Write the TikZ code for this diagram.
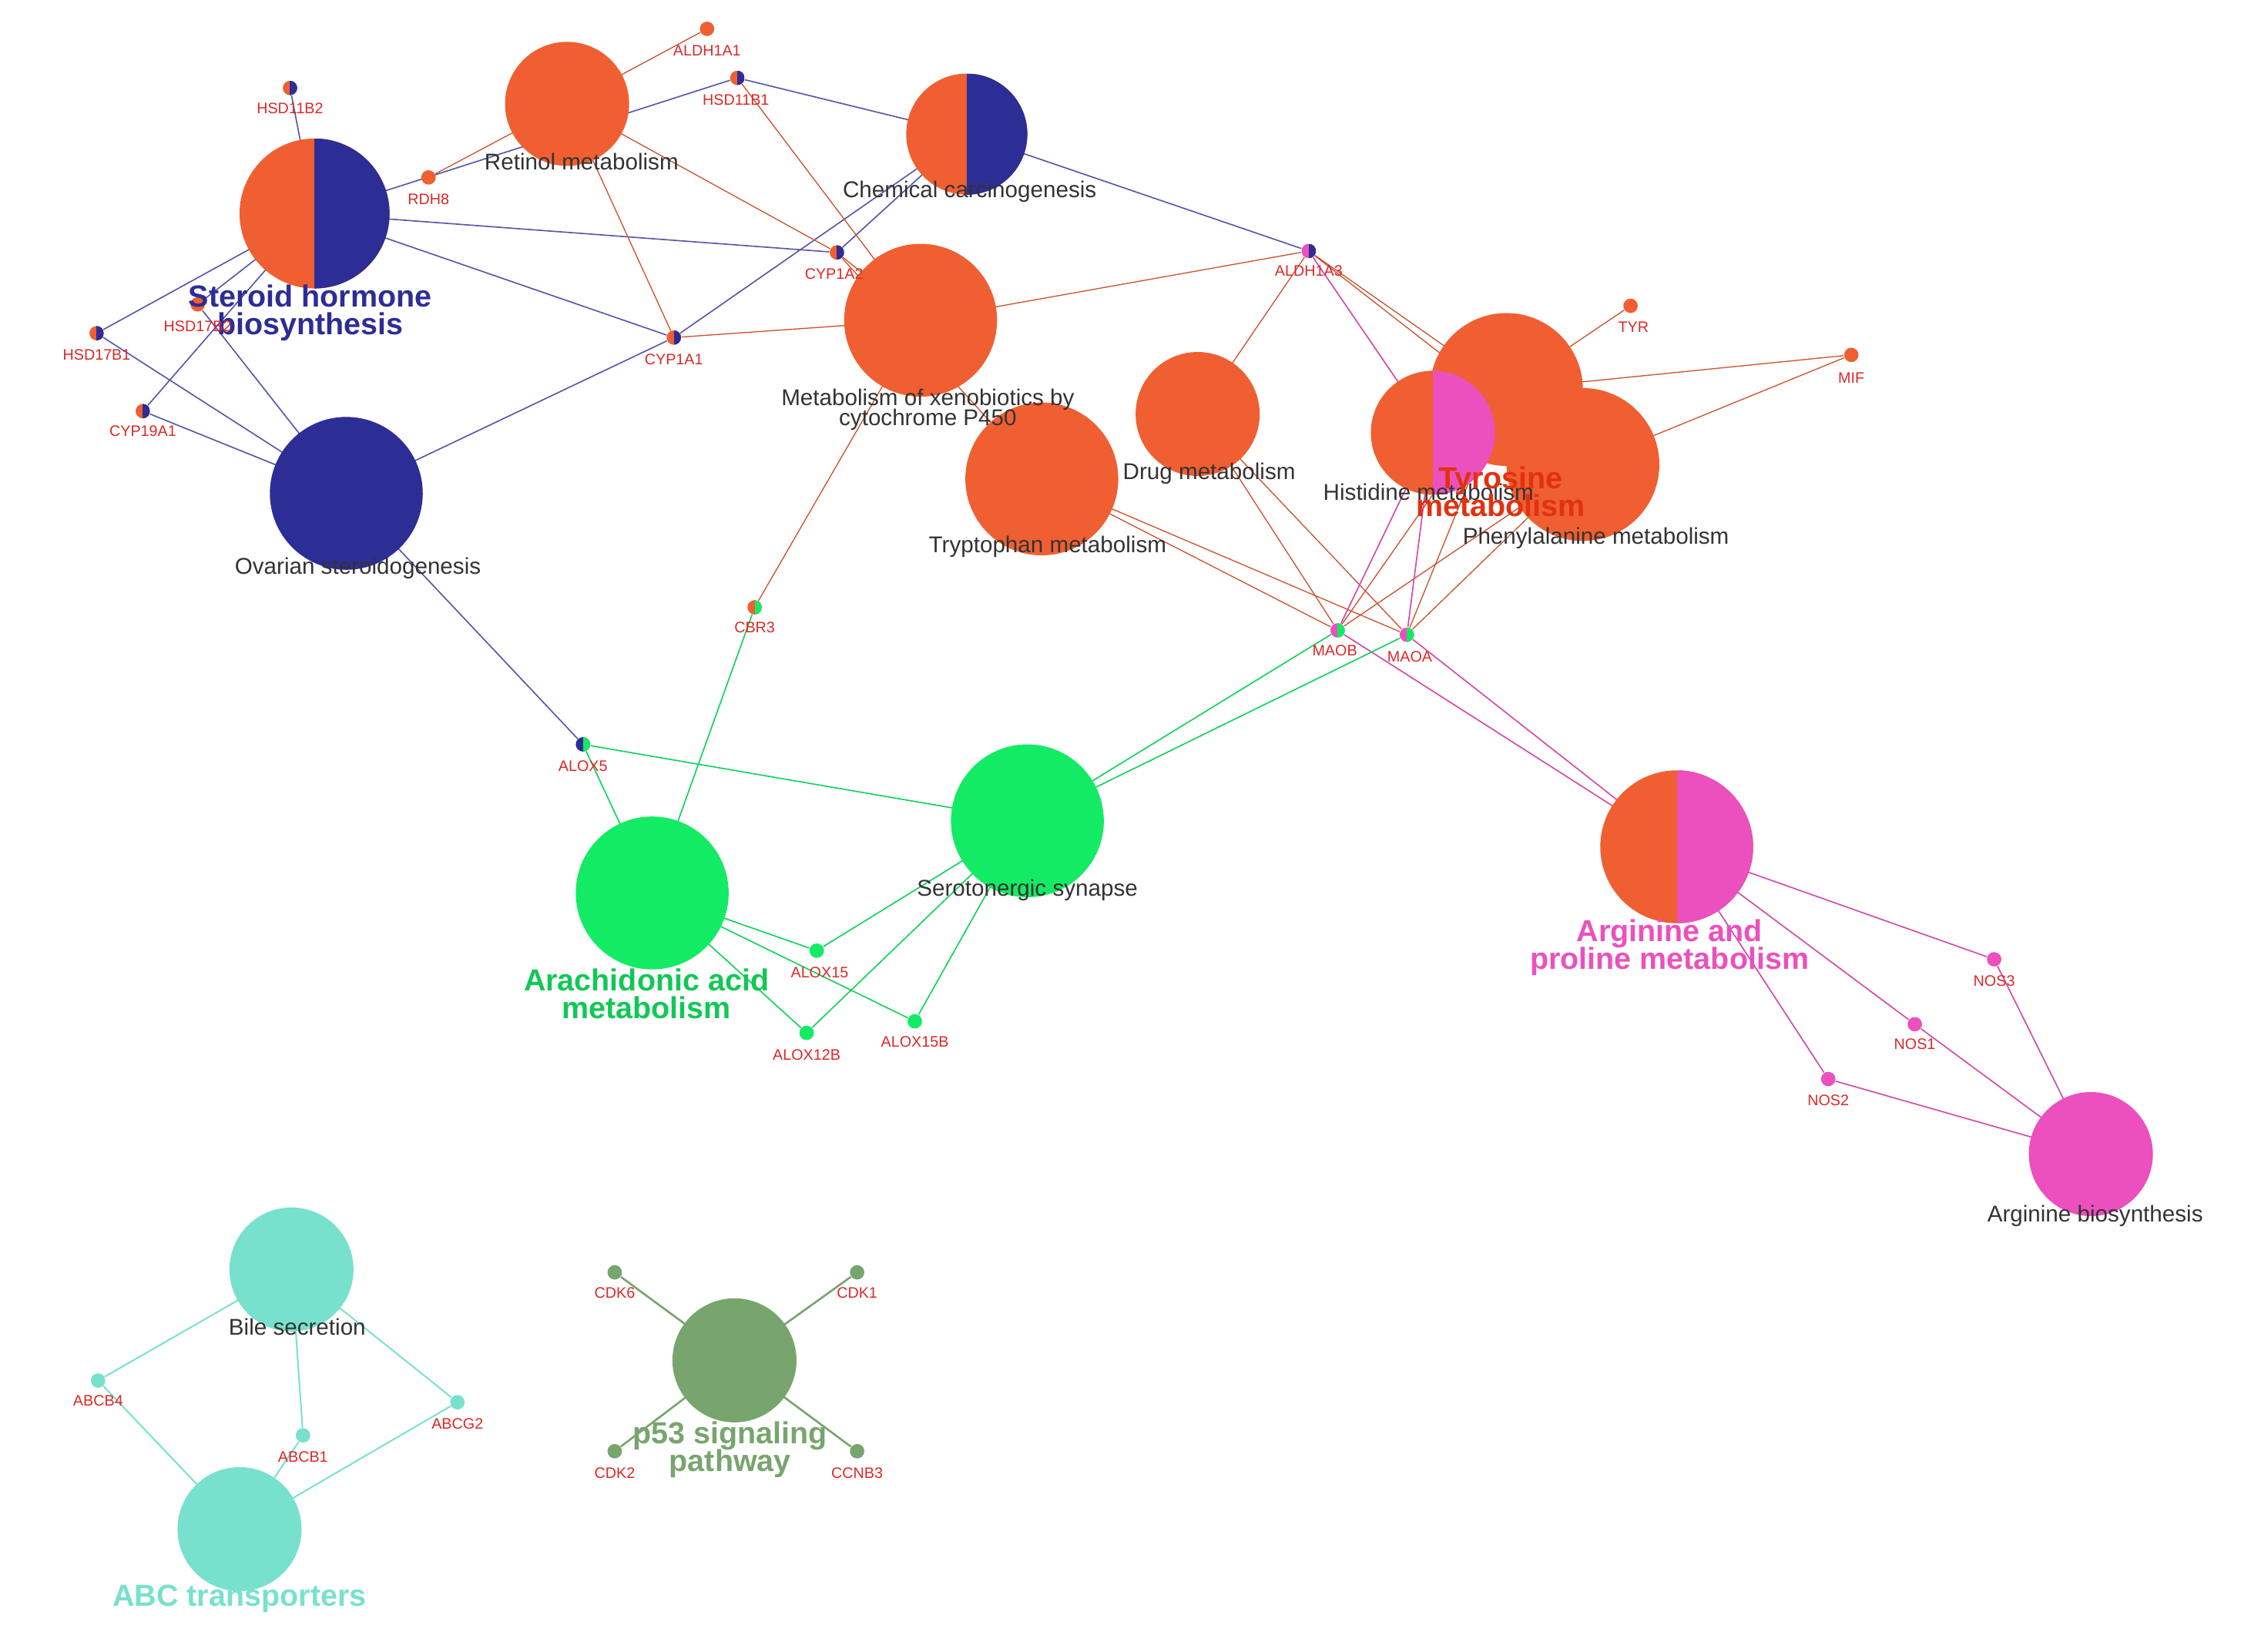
\documentclass[tikz,border=0pt]{standalone}
\usepackage{fontspec}
\setmainfont{Liberation Sans}
\pgfdeclarelayer{bg}
\pgfsetlayers{bg,main}
\begin{document}
\begin{tikzpicture}[x=0.02cm,y=-0.02cm]
\definecolor{org}{RGB}{240,95,50}
\definecolor{blu}{RGB}{45,45,150}
\definecolor{mag}{RGB}{235,80,190}
\definecolor{grn}{RGB}{20,235,100}
\definecolor{tur}{RGB}{120,225,205}
\definecolor{sag}{RGB}{120,165,110}
\definecolor{gred}{RGB}{220,40,40}
\tikzset{
 big/.style={circle,inner sep=0,minimum size=#1*0.04cm},
 sm/.style={circle,inner sep=0,minimum size=0.2cm},
 half/.style 2 args={fill=#1,path picture={\fill[#2] (path picture bounding box.north) rectangle (path picture bounding box.south east);}},
 lab/.style={font=\fontsize{9}{10}\selectfont,text=black!80},
 gl/.style={font=\fontsize{6}{7}\selectfont,text=gred},
 blab/.style={font=\bfseries\fontsize{12}{14}\selectfont,align=center},
 eb/.style={blu!80,line width=0.5pt},
 eo/.style={org!85!black,line width=0.4pt},
 em/.style={mag!90!black,line width=0.5pt},
 eg/.style={grn!90!black,line width=0.5pt},
 et/.style={tur,line width=0.6pt},
 es/.style={sag,line width=0.8pt}
}
\path[use as bounding box] (0,0) rectangle (1560,1145);
% big nodes
\node[big=52,half={org}{blu}] (ster) at (218,148) {};
\node[big=43,fill=org] (ret) at (393,72) {};
\node[big=42,half={org}{blu}] (chem) at (670,93) {};
\node[big=53,fill=org] (xeno) at (638,222) {};
\node[big=43,fill=org] (drug) at (830,287) {};
\node[big=53,fill=org] (tryp) at (722,332) {};
\node[big=53,fill=org] (tyr) at (1044,270) {};
\node[big=43,half={org}{mag}] (his) at (993,300) {};
\node[big=53,fill=org] (phe) at (1097,322) {};
\node[big=53,fill=blu] (ova) at (240,342) {};
\node[big=53,fill=grn] (ara) at (452,619) {};
\node[big=53,fill=grn] (ser) at (712,569) {};
\node[big=53,half={org}{mag}] (arg) at (1162,587) {};
\node[big=43,fill=mag] (argb) at (1449,800) {};
\node[big=43,fill=tur] (bile) at (202,880) {};
\node[big=43,fill=tur] (abc) at (166,1060) {};
\node[big=43,fill=sag] (p53) at (509,943) {};
% small nodes
\node[sm,half={org}{blu}] (hsd11b2) at (201,61) {};
\node[sm,fill=org] (aldh1a1) at (490,20) {};
\node[sm,half={org}{blu}] (hsd11b1) at (511,54) {};
\node[sm,fill=org] (rdh8) at (297,123) {};
\node[sm,half={org}{blu}] (cyp1a2) at (580,175) {};
\node[sm,half={mag}{blu}] (aldh1a3) at (907,174) {};
\node[sm,fill=org] (tyrg) at (1130,212) {};
\node[sm,fill=org] (mif) at (1283,246) {};
\node[sm,fill=org] (hsd17b2) at (137,211) {};
\node[sm,half={org}{blu}] (hsd17b1) at (67,231) {};
\node[sm,half={org}{blu}] (cyp1a1) at (467,234) {};
\node[sm,half={org}{blu}] (cyp19a1) at (99,285) {};
\node[sm,half={org}{grn}] (cbr3) at (523,421) {};
\node[sm,half={mag}{grn}] (maob) at (927,437) {};
\node[sm,half={mag}{grn}] (maoa) at (975,440) {};
\node[sm,half={blu}{grn}] (alox5) at (404,516) {};
\node[sm,fill=grn] (alox15) at (566,659) {};
\node[sm,fill=grn] (alox12b) at (559,716) {};
\node[sm,fill=grn] (alox15b) at (634,708) {};
\node[sm,fill=mag] (nos3) at (1382,665) {};
\node[sm,fill=mag] (nos1) at (1327,710) {};
\node[sm,fill=mag] (nos2) at (1267,748) {};
\node[sm,fill=sag] (cdk6) at (426,882) {};
\node[sm,fill=sag] (cdk1) at (594,882) {};
\node[sm,fill=sag] (cdk2) at (426,1006) {};
\node[sm,fill=sag] (ccnb3) at (594,1006) {};
\node[sm,fill=tur] (abcb4) at (68,957) {};
\node[sm,fill=tur] (abcg2) at (317,972) {};
\node[sm,fill=tur] (abcb1) at (210,995) {};
\begin{pgfonlayer}{bg}
\foreach \b in {hsd11b2,cyp1a2,cyp1a1,hsd17b2,hsd17b1,cyp19a1,hsd11b1} \draw[eb] (ster.center) -- (\b);
\foreach \b in {hsd17b2,hsd17b1,cyp19a1,cyp1a1,alox5} \draw[eb] (ova.center) -- (\b);
\foreach \b in {hsd11b1,cyp1a1,cyp1a2,aldh1a3} \draw[eb] (chem.center) -- (\b);
\foreach \b in {aldh1a1,rdh8,cyp1a1,cyp1a2} \draw[eo] (ret.center) -- (\b);
\foreach \b in {cyp1a1,cyp1a2,aldh1a3,cbr3,hsd11b1} \draw[eo] (xeno.center) -- (\b);
\foreach \b in {aldh1a3,maoa,maob} \draw[eo] (drug.center) -- (\b);
\foreach \b in {maoa,maob,cyp1a2} \draw[eo] (tryp.center) -- (\b);
\foreach \b in {aldh1a3,tyrg,mif,maoa,maob} \draw[eo] (tyr.center) -- (\b);
\foreach \b in {mif,maoa,maob,aldh1a3} \draw[eo] (phe.center) -- (\b);
\foreach \b in {aldh1a3,maoa,maob} \draw[em] (his.center) -- (\b);
\foreach \b in {maoa,maob,nos3,nos1,nos2} \draw[em] (arg.center) -- (\b);
\foreach \b in {nos3,nos1,nos2} \draw[em] (argb.center) -- (\b);
\foreach \b in {alox5,cbr3,alox15,alox12b,alox15b} \draw[eg] (ara.center) -- (\b);
\foreach \b in {alox5,maoa,maob,alox15,alox12b,alox15b} \draw[eg] (ser.center) -- (\b);
\foreach \b in {abcb4,abcb1,abcg2} {\draw[et] (bile.center) -- (\b); \draw[et] (abc.center) -- (\b);}
\foreach \b in {cdk6,cdk1,cdk2,ccnb3} \draw[es] (p53.center) -- (\b);
\end{pgfonlayer}
% labels
\node[lab] at (403,112) {Retinol metabolism};
\node[lab] at (672,133) {Chemical carcinogenesis};
\node[lab,align=center] at (643,284) {Metabolism of xenobiotics by\\[-2pt]cytochrome P450};
\node[lab] at (838,328) {Drug metabolism};
\node[lab] at (990,341) {Histidine metabolism};
\node[lab] at (726,379) {Tryptophan metabolism};
\node[lab] at (1106,373) {Phenylalanine metabolism};
\node[lab] at (248,394) {Ovarian steroidogenesis};
\node[lab] at (712,617) {Serotonergic synapse};
\node[lab] at (1452,843) {Arginine biosynthesis};
\node[lab] at (206,920) {Bile secretion};
\node[blab,text=blu] at (215,217) {Steroid hormone\\[-3pt]biosynthesis};
\node[blab,text={rgb,255:red,225;green,50;blue,15}] at (1040,341) {Tyrosine\\[-3pt]metabolism};
\node[blab,text=grn!85!black] at (448,689) {Arachidonic acid\\[-3pt]metabolism};
\node[blab,text=mag] at (1157,657) {Arginine and\\[-3pt]proline metabolism};
\node[blab,text=tur] at (166,1108) {ABC transporters};
\node[blab,text=sag] at (506,1005) {p53 signaling\\[-3pt]pathway};
\node[gl] at (201,75) {HSD11B2};
\node[gl] at (490,35) {ALDH1A1};
\node[gl] at (510,69) {HSD11B1};
\node[gl] at (297,138) {RDH8};
\node[gl] at (578,190) {CYP1A2};
\node[gl] at (907,188) {ALDH1A3};
\node[gl] at (1132,227) {TYR};
\node[gl] at (1283,262) {MIF};
\node[gl] at (137,226) {HSD17B2};
\node[gl] at (67,246) {HSD17B1};
\node[gl] at (467,249) {CYP1A1};
\node[gl] at (99,299) {CYP19A1};
\node[gl] at (523,435) {CBR3};
\node[gl] at (925,451) {MAOB};
\node[gl] at (977,455) {MAOA};
\node[gl] at (404,531) {ALOX5};
\node[gl] at (568,674) {ALOX15};
\node[gl] at (559,731) {ALOX12B};
\node[gl] at (634,722) {ALOX15B};
\node[gl] at (1382,680) {NOS3};
\node[gl] at (1327,724) {NOS1};
\node[gl] at (1267,763) {NOS2};
\node[gl] at (426,896) {CDK6};
\node[gl] at (594,896) {CDK1};
\node[gl] at (426,1021) {CDK2};
\node[gl] at (594,1021) {CCNB3};
\node[gl] at (68,971) {ABCB4};
\node[gl] at (317,987) {ABCG2};
\node[gl] at (210,1010) {ABCB1};
\end{tikzpicture}
\end{document}
